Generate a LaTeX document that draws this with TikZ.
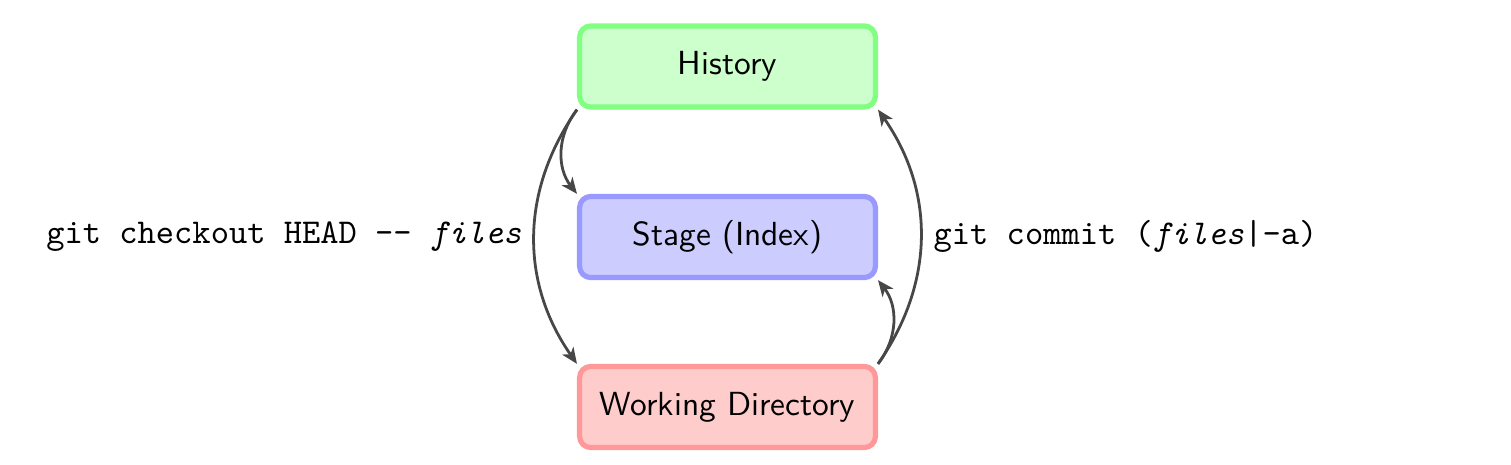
\documentclass[tikz,border=0pt]{standalone}
\usetikzlibrary{arrows.meta}
\begin{document}
\begin{tikzpicture}[x=0.28736pt,y=-0.28736pt,
  box/.style={draw, line width=1.5pt, rounded corners=3.2pt, minimum width=85pt, minimum height=23.3pt, font=\sffamily\fontsize{9.6}{11}\selectfont, inner sep=0pt},
  arr/.style={draw=black!72, line width=0.8pt, -{Stealth[length=4.6pt,width=3.9pt,inset=1.3pt]}},
  lbl/.style={font=\ttfamily, text=black}]
\useasboundingbox (0,0) rectangle (1511,465);
\node[box, draw=green!50, fill=green!20] (H) at (727.5,66.5) {History};
\node[box, draw=blue!40, fill=blue!20] (S) at (727.5,237) {Stage (Index)};
\node[box, draw=red!40, fill=red!20] (W) at (727.5,407) {Working Directory};
\draw[arr] (H.south west) to[bend right=38] (S.north west);
\draw[arr] (H.south west) to[bend right=35] node[lbl, left] {git checkout HEAD -- \textit{files}} (W.north west);
\draw[arr] (W.north east) to[bend right=38] (S.south east);
\draw[arr] (W.north east) to[bend right=35] node[lbl, right] {git commit (\textit{files}|-a)} (H.south east);
\end{tikzpicture}
\end{document}
